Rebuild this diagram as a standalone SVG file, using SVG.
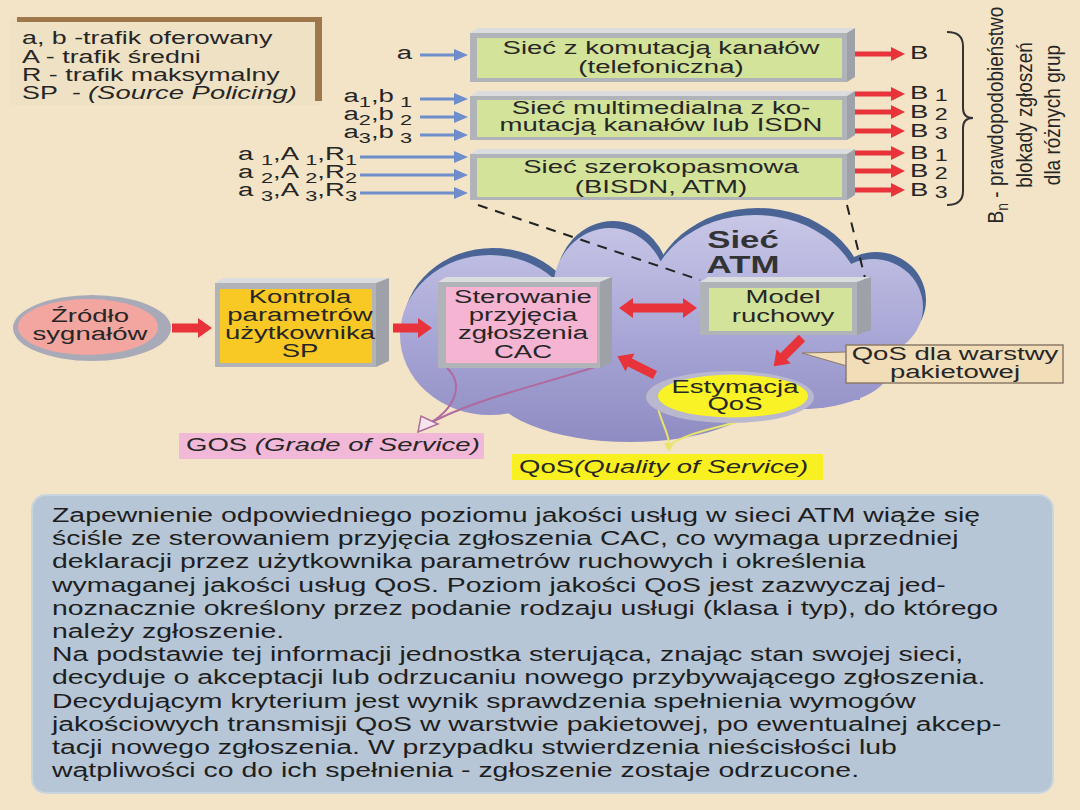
<svg xmlns="http://www.w3.org/2000/svg" width="1080" height="810" viewBox="0 0 1080 810">
<style>
text{font-family:"Liberation Sans",Arial,sans-serif;fill:#262626;font-size:19px}
.lg{font-size:18.5px}
.it{font-style:italic}
.ctr{text-anchor:middle}
.end{text-anchor:end}
.sub{font-size:15px}
.fr{fill:#B0B4B8}
.tf{fill:#DADCDE}
.rf{fill:#9EA2A8}
.grn{fill:#D4E39A}
.ra{fill:#E8333B}
.bl{stroke:#6E8ECB;stroke-width:3}
.rs{stroke:#E8333B;stroke-width:5}
.dash{stroke:#222;stroke-width:2;stroke-dasharray:10 8;fill:none}
.body{font-size:19.6px;fill:#1E1E1E}
</style>
<defs>
<linearGradient id="cg" gradientUnits="userSpaceOnUse" x1="0" y1="215" x2="0" y2="445">
<stop offset="0" stop-color="#C8C7E7"/>
<stop offset="0.55" stop-color="#A7A5D5"/>
<stop offset="1" stop-color="#8D8BC1"/>
</linearGradient>
<marker id="hb" markerUnits="userSpaceOnUse" markerWidth="14" markerHeight="12" refX="4" refY="6" orient="auto"><path d="M0,0 L14,6 L0,12 Z" fill="#6E8ECB"/></marker>
<marker id="hr" markerUnits="userSpaceOnUse" markerWidth="14" markerHeight="14" refX="4" refY="7" orient="auto"><path d="M0,0 L14,7 L0,14 Z" fill="#E8333B"/></marker>
</defs>

<rect width="1080" height="810" fill="#F3E4C7"/>

<!-- legend -->
<g id="legend">
<rect x="10" y="17" width="310" height="88" fill="#EFE1C3"/>
<rect x="17" y="17" width="305" height="5" fill="#9E774A"/>
<rect x="315" y="17" width="7" height="84" fill="#9E774A"/>
<g transform="scale(1.45 1)">
<text class="lg" x="15.17" y="44">a, b -trafik oferowany</text>
<text class="lg" x="15.17" y="63">A - trafik średni</text>
<text class="lg" x="15.17" y="81">R - trafik maksymalny</text>
<text class="lg" x="15.17" y="99">SP</text>
<text class="lg" x="49.66" y="99">-</text>
<text class="lg it" x="60.69" y="99" textLength="144" lengthAdjust="spacingAndGlyphs">(Source Policing)</text>
</g>
</g>

<!-- cloud -->
<g id="cloud">
<g fill="#4B6496" transform="translate(3,-7)">
<ellipse cx="490" cy="335" rx="90" ry="80"/>
<ellipse cx="610" cy="290" rx="57" ry="62"/>
<ellipse cx="755" cy="305" rx="108" ry="90"/>
<ellipse cx="873" cy="307" rx="50" ry="48"/>
</g>
<g fill="url(#cg)">
<ellipse cx="490" cy="335" rx="90" ry="80"/>
<ellipse cx="610" cy="290" rx="57" ry="62"/>
<ellipse cx="755" cy="305" rx="108" ry="90"/>
<ellipse cx="873" cy="307" rx="50" ry="48"/>
<ellipse cx="630" cy="385" rx="140" ry="57"/>
<ellipse cx="800" cy="365" rx="92" ry="44"/>
<rect x="480" y="300" width="380" height="100"/>
</g>
<g transform="scale(1.45 1)">
<text class="ctr" x="512.41" y="248" style="font-weight:bold;font-size:24px;fill:#333">Sieć</text>
<text class="ctr" x="512.41" y="273" style="font-weight:bold;font-size:24px;fill:#333">ATM</text>
</g>
</g>

<!-- connectors -->
<g id="connectors">
<line class="dash" x1="478" y1="205" x2="700" y2="280"/>
<line class="dash" x1="847" y1="205" x2="866" y2="282"/>
<line class="bl" x1="420" y1="55" x2="458" y2="55" marker-end="url(#hb)"/>
<line class="bl" x1="420" y1="99" x2="458" y2="99" marker-end="url(#hb)"/>
<line class="bl" x1="420" y1="117" x2="458" y2="117" marker-end="url(#hb)"/>
<line class="bl" x1="420" y1="135" x2="458" y2="135" marker-end="url(#hb)"/>
<line class="bl" x1="360" y1="157" x2="458" y2="157" marker-end="url(#hb)"/>
<line class="bl" x1="360" y1="175" x2="458" y2="175" marker-end="url(#hb)"/>
<line class="bl" x1="360" y1="193" x2="458" y2="193" marker-end="url(#hb)"/>
<line class="rs" x1="855" y1="54" x2="895" y2="54" marker-end="url(#hr)"/>
<line class="rs" x1="855" y1="94" x2="895" y2="94" marker-end="url(#hr)"/>
<line class="rs" x1="855" y1="112" x2="895" y2="112" marker-end="url(#hr)"/>
<line class="rs" x1="855" y1="131" x2="895" y2="131" marker-end="url(#hr)"/>
<line class="rs" x1="855" y1="153" x2="895" y2="153" marker-end="url(#hr)"/>
<line class="rs" x1="855" y1="171" x2="895" y2="171" marker-end="url(#hr)"/>
<line class="rs" x1="855" y1="190" x2="895" y2="190" marker-end="url(#hr)"/>
<path d="M947,32 Q963,32 963,46 L963,108 Q963,118 973,118 Q963,118 963,128 L963,191 Q963,205 947,205" fill="none" stroke="#333" stroke-width="2"/>
<path class="ra" transform="translate(172,328)" d="M0,-4.5 H26 V-10 L40,0 L26,10 V4.5 H0 Z"/>
<path class="ra" transform="translate(393,328)" d="M0,-4.5 H25 V-10 L39,0 L25,10 V4.5 H0 Z"/>
<path class="ra" transform="translate(619,308)" d="M0,0 L14,-10 V-4.5 H64 V-10 L78,0 L64,10 V4.5 H14 V10 Z"/>
<path class="ra" transform="translate(802,338) rotate(135)" d="M0,-4.5 H26 V-10 L40,0 L26,10 V4.5 H0 Z"/>
<path class="ra" transform="translate(655,375) rotate(206.6)" d="M0,-4.5 H28 V-10 L42,0 L28,10 V4.5 H0 Z"/>
<path d="M447,368 C465,385 455,410 425,426" fill="none" stroke="#B06A9E" stroke-width="2"/>
<path d="M595,367 C540,385 470,400 425,426" fill="none" stroke="#B06A9E" stroke-width="2"/>
<polygon points="418,432 421,416 438,424" fill="#F5E6EE" stroke="#B06A9E" stroke-width="1.5"/>
<path d="M658,408 C662,425 670,435 669,446" fill="none" stroke="#E9E46A" stroke-width="2"/>
<path d="M737,422 C715,428 680,435 669,446" fill="none" stroke="#E9E46A" stroke-width="2"/>
<polygon points="664,443 674,443 669,452" fill="#E9E46A"/>
</g>

<!-- top boxes -->
<g id="box-komutacja">
<polygon class="tf" points="470,33 478,28 855,28 847,33"/>
<polygon class="rf" points="847,33 855,28 855,77 847,82"/>
<rect class="fr" x="470" y="33" width="377" height="49"/>
<rect class="grn" x="477" y="38" width="365" height="40"/>
<g transform="scale(1.45 1)">
<text class="ctr" x="455.86" y="54">Sieć z komutacją kanałów</text>
<text class="ctr" x="455.86" y="73">(telefoniczna)</text>
</g>
</g>
<g id="box-multimedialna">
<polygon class="tf" points="470,96 478,91 855,91 847,96"/>
<polygon class="rf" points="847,96 855,91 855,135 847,140"/>
<rect class="fr" x="470" y="96" width="377" height="44"/>
<rect class="grn" x="477" y="100" width="365" height="37"/>
<g transform="scale(1.45 1)">
<text class="ctr" x="455.86" y="114">Sieć multimedialna z ko-</text>
<text class="ctr" x="455.86" y="131">mutacją kanałów lub ISDN</text>
</g>
</g>
<g id="box-szerokopasmowa">
<polygon class="tf" points="470,154 478,149 855,149 847,154"/>
<polygon class="rf" points="847,154 855,149 855,195 847,200"/>
<rect class="fr" x="470" y="154" width="377" height="46"/>
<rect class="grn" x="477" y="158" width="365" height="39"/>
<g transform="scale(1.45 1)">
<text class="ctr" x="455.86" y="173">Sieć szerokopasmowa</text>
<text class="ctr" x="455.86" y="193">(BISDN, ATM)</text>
</g>
</g>

<!-- input labels -->
<g id="inputs">
<g transform="scale(1.45 1)">
<text class="end" x="284.14" y="59">a</text>
<text class="end" x="284.14" y="102">a<tspan class="sub" dy="5">1</tspan><tspan dy="-5">,b</tspan><tspan class="sub" dy="5"> 1</tspan></text>
<text class="end" x="284.14" y="120">a<tspan class="sub" dy="5">2</tspan><tspan dy="-5">,b</tspan><tspan class="sub" dy="5"> 2</tspan></text>
<text class="end" x="284.14" y="138">a<tspan class="sub" dy="5">3</tspan><tspan dy="-5">,b</tspan><tspan class="sub" dy="5"> 3</tspan></text>
<text class="end" x="246.21" y="160">a <tspan class="sub" dy="5">1</tspan><tspan dy="-5">,A </tspan><tspan class="sub" dy="5">1</tspan><tspan dy="-5">,R</tspan><tspan class="sub" dy="5">1</tspan></text>
<text class="end" x="246.21" y="178">a <tspan class="sub" dy="5">2</tspan><tspan dy="-5">,A </tspan><tspan class="sub" dy="5">2</tspan><tspan dy="-5">,R</tspan><tspan class="sub" dy="5">2</tspan></text>
<text class="end" x="246.21" y="196">a <tspan class="sub" dy="5">3</tspan><tspan dy="-5">,A </tspan><tspan class="sub" dy="5">3</tspan><tspan dy="-5">,R</tspan><tspan class="sub" dy="5">3</tspan></text>
</g>
</g>

<!-- output labels -->
<g id="outputs">
<g transform="scale(1.45 1)">
<text x="627.59" y="59">B</text>
<text x="627.59" y="99">B<tspan font-size="16" dy="2"> 1</tspan></text>
<text x="627.59" y="118">B<tspan font-size="16" dy="2"> 2</tspan></text>
<text x="627.59" y="137">B<tspan font-size="16" dy="2"> 3</tspan></text>
<text x="627.59" y="159">B<tspan font-size="16" dy="2"> 1</tspan></text>
<text x="627.59" y="177">B<tspan font-size="16" dy="2"> 2</tspan></text>
<text x="627.59" y="196">B<tspan font-size="16" dy="2"> 3</tspan></text>
</g>
<text class="ctr" transform="translate(1003,115) scale(1.2 1) rotate(-90)">B<tspan font-size="14" dy="4">n</tspan><tspan dy="-4"> - prawdopodobieństwo</tspan></text>
<text class="ctr" transform="translate(1032,115) scale(1.2 1) rotate(-90)">blokady zgłoszeń</text>
<text class="ctr" transform="translate(1060,115) scale(1.2 1) rotate(-90)">dla różnych grup</text>
</g>

<!-- middle nodes -->
<g id="zrodlo">
<ellipse cx="92" cy="328" rx="79" ry="33" fill="#A9AAB8"/>
<ellipse cx="88" cy="327" rx="70" ry="28" fill="#F3A59F"/>
<g transform="scale(1.45 1)">
<text class="ctr" x="62.07" y="322">Źródło</text>
<text class="ctr" x="62.07" y="340">sygnałów</text>
</g>
</g>

<g id="kontrola">
<polygon class="tf" points="215,283 223,278 389,278 376,283"/>
<polygon class="rf" points="376,283 389,278 389,361 376,367"/>
<rect class="fr" x="215" y="283" width="161" height="84"/>
<rect x="220" y="289" width="152" height="74" fill="#F8C925"/>
<g transform="scale(1.45 1)">
<text class="ctr" x="206.90" y="303">Kontrola</text>
<text class="ctr" x="206.90" y="321">parametrów</text>
<text class="ctr" x="206.90" y="339">użytkownika</text>
<text class="ctr" x="206.90" y="357">SP</text>
</g>
</g>

<g id="sterowanie">
<polygon class="tf" points="438,282 446,277 612,277 600,282"/>
<polygon class="rf" points="600,282 612,277 612,362 600,368"/>
<rect class="fr" x="438" y="282" width="162" height="86"/>
<rect x="446" y="287" width="151" height="76" fill="#F4B4D2"/>
<g transform="scale(1.45 1)">
<text class="ctr" x="360.69" y="303">Sterowanie</text>
<text class="ctr" x="360.69" y="321">przyjęcia</text>
<text class="ctr" x="360.69" y="339">zgłoszenia</text>
<text class="ctr" x="360.69" y="358">CAC</text>
</g>
</g>

<g id="model">
<polygon class="tf" points="700,282 708,277 871,277 857,282"/>
<polygon class="rf" points="857,282 871,277 871,330 857,335"/>
<rect class="fr" x="700" y="282" width="157" height="53"/>
<rect class="grn" x="709" y="288" width="143" height="43"/>
<g transform="scale(1.45 1)">
<text class="ctr" x="540.00" y="303">Model</text>
<text class="ctr" x="540.00" y="322">ruchowy</text>
</g>
</g>

<g id="estymacja">
<ellipse cx="730" cy="397" rx="84" ry="26" fill="#BAB8CE"/>
<ellipse cx="733" cy="396" rx="75" ry="21.5" fill="#F9F227"/>
<g transform="scale(1.45 1)">
<text class="ctr" x="506.90" y="393">Estymacja</text>
<text class="ctr" x="506.90" y="410">QoS</text>
</g>
</g>

<g id="callout">
<polygon points="847,352 847,366 802,353" fill="#F1DDB8" stroke="#8C7B6A" stroke-width="1"/>
<rect x="846" y="345" width="217" height="38" fill="#F1DDB8" stroke="#8C7B6A" stroke-width="1.5"/>
<g transform="scale(1.45 1)">
<text class="ctr" x="658.62" y="360">QoS dla warstwy</text>
<text class="ctr" x="658.62" y="378">pakietowej</text>
</g>
</g>

<g id="gos">
<rect x="179" y="433" width="305" height="26" fill="#F2B8D8"/>
<g transform="scale(1.45 1)">
<text x="128.28" y="451">GOS <tspan class="it">(Grade of Service)</tspan></text>
</g>
</g>

<g id="qos">
<rect x="512" y="454" width="311" height="26" fill="#F8F020"/>
<g transform="scale(1.45 1)">
<text x="357.93" y="473">QoS<tspan class="it">(Quality of Service)</tspan></text>
</g>
</g>

<!-- description -->
<g id="description">
<rect x="32" y="495" width="1021" height="298" rx="14" fill="#B6C6D6" stroke="#CBD5DE" stroke-width="2"/>
<g transform="scale(1.45 1)">
<text class="body" x="35.86" y="522">Zapewnienie odpowiedniego poziomu jakości usług w sieci ATM wiąże się</text>
<text class="body" x="35.86" y="545.2">ściśle ze sterowaniem przyjęcia zgłoszenia CAC, co wymaga uprzedniej</text>
<text class="body" x="35.86" y="568.4">deklaracji przez użytkownika parametrów ruchowych i określenia</text>
<text class="body" x="35.86" y="591.6">wymaganej jakości usług QoS. Poziom jakości QoS jest zazwyczaj jed-</text>
<text class="body" x="35.86" y="614.8">noznacznie określony przez podanie rodzaju usługi (klasa i typ), do którego</text>
<text class="body" x="35.86" y="638">należy zgłoszenie.</text>
<text class="body" x="35.86" y="661.2">Na podstawie tej informacji jednostka sterująca, znając stan swojej sieci,</text>
<text class="body" x="35.86" y="684.4">decyduje o akceptacji lub odrzucaniu nowego przybywającego zgłoszenia.</text>
<text class="body" x="35.86" y="707.6">Decydującym kryterium jest wynik sprawdzenia spełnienia wymogów</text>
<text class="body" x="35.86" y="730.8">jakościowych transmisji QoS w warstwie pakietowej, po ewentualnej akcep-</text>
<text class="body" x="35.86" y="754">tacji nowego zgłoszenia. W przypadku stwierdzenia nieścisłości lub</text>
<text class="body" x="35.86" y="777.2">wątpliwości co do ich spełnienia - zgłoszenie zostaje odrzucone.</text>
</g>
</g>
</svg>
